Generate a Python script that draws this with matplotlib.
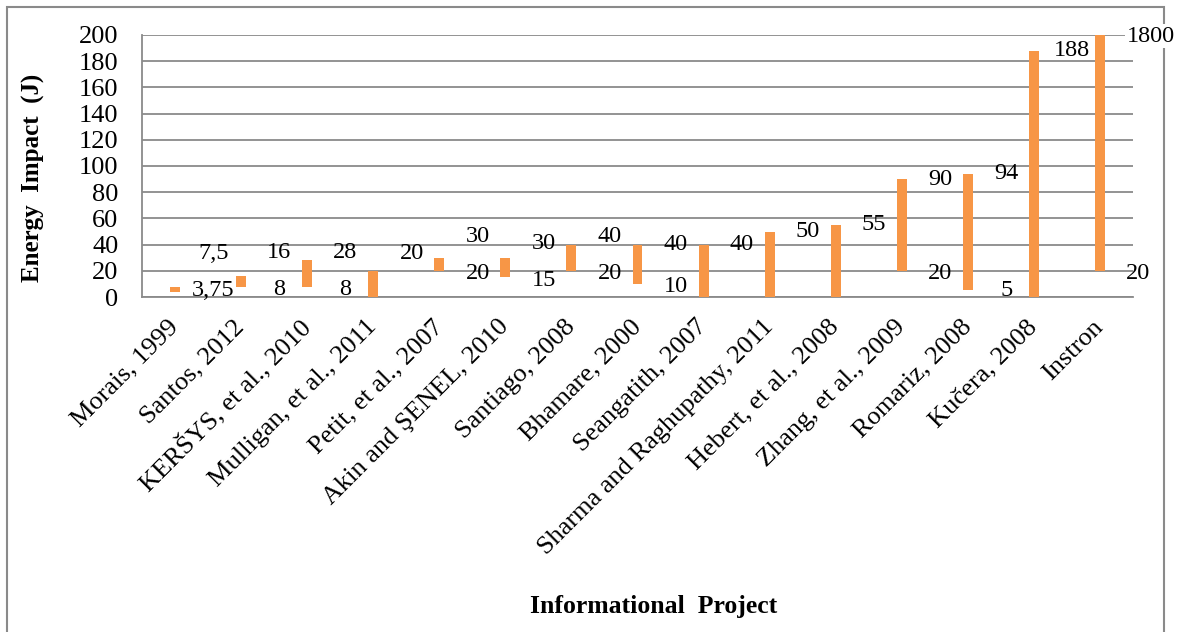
import matplotlib
matplotlib.use("Agg")
import matplotlib.pyplot as plt
from matplotlib.patches import Rectangle
import numpy as np

# Data (energy range per project)
projects = ["Morais, 1999", "Santos, 2012", "KERŠYS, et al., 2010",
            "Mulligan, et al., 2011", "Petit, et al., 2007", "Akin and ŞENEL, 2010",
            "Santiago, 2008", "Bhamare, 2000", "Seangatith, 2007",
            "Sharma and Raghupathy, 2011", "Hebert, et al., 2008",
            "Zhang, et al., 2009", "Romariz, 2008", "Kučera, 2008", "Instron"]
low_j = [3.75, 8, 8, 0, 20, 15, 20, 10, 0, 0, 0, 20, 5, 0, 20]
high_j = [7.5, 16, 28, 20, 30, 30, 40, 40, 40, 50, 55, 90, 94, 188, 1800]

plt.rcParams["font.family"] = ["Liberation Serif", "DejaVu Serif"]

fig = plt.figure(figsize=(11.85, 6.32), dpi=100)
ax = fig.add_axes([0.1198, 0.530, 0.8364, 0.4148])

x = np.arange(len(projects))
low = np.array(low_j)
high = np.array(high_j)
ax.bar(x, high - low, bottom=low, width=0.15, color="#F79646", zorder=3)

ymax = 200
ax.set_ylim(0, ymax)
ax.set_xlim(-0.5, len(projects) - 0.5)
ax.set_yticks(np.arange(0, 201, 20))
ax.grid(axis="y", color="#8a8a8a", linewidth=1.3, zorder=1)
ax.set_axisbelow(True)


def fmt(v):
    s = f"{v:g}"
    return s.replace(".", ",")


# data labels: max to the upper right of the bar, min to the lower right
for i in range(len(projects)):
    lo_y = max(low[i] - 2, 5)
    hi_y = max(min(high[i], ymax - 1), lo_y + 28)
    if high[i] > ymax:
        # off-scale value: label sits outside the plot, over the border
        ax.text(x[i] + 0.4, hi_y, fmt(high[i]), ha="left", va="center",
                fontsize=17.5, clip_on=False, zorder=4,
                bbox=dict(facecolor="white", edgecolor="none", pad=1))
    else:
        ax.text(x[i] + 0.58, hi_y, fmt(high[i]), ha="center", va="center",
                fontsize=17.5, clip_on=False, zorder=4)
    if low[i] > 0:
        ax.text(x[i] + 0.58, lo_y, fmt(low[i]), ha="center", va="center",
                fontsize=17.5, clip_on=False, zorder=4)

ax.set_xticks(x)
ax.set_xticklabels(projects, rotation=45, ha="right", va="center",
                   rotation_mode="anchor", fontsize=19)
ax.tick_params(axis="x", length=0, pad=19)
ax.tick_params(axis="y", length=0, pad=17, labelsize=19)

for side in ["top", "right"]:
    ax.spines[side].set_visible(False)
for side in ["left", "bottom"]:
    ax.spines[side].set_color("#8a8a8a")
    ax.spines[side].set_linewidth(1.3)

ax.set_ylabel("Energy  Impact  (J)", fontsize=18, fontweight="bold")
ax.yaxis.set_label_coords(-0.098, 0.454)
fig.text(654 / 1185, 1 - 606 / 632, "Informational  Project", ha="center",
         va="center", fontsize=18.5, fontweight="bold")

# outer chart border
fig.patches.append(Rectangle((7 / 1185, -0.05), (1164 - 7) / 1185, 1.05 - 7 / 632,
                             transform=fig.transFigure, fill=False,
                             edgecolor="#8a8a8a", linewidth=1.5, zorder=-1))

fig.savefig("out.png", dpi=100)
